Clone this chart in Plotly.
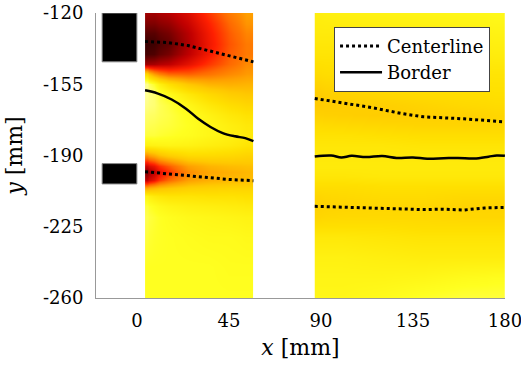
import plotly.graph_objects as go

# ---------------- data ----------------
# left field (x edges of columns, y rows, normalized intensity)
left_x_edges = [4, 6, 11, 20, 30, 40, 50, 57]
left_y = [-120, -125, -130, -135, -140, -145, -150, -155, -160, -165, -170, -175,
          -180, -185, -190, -195, -198, -202, -206, -210, -215, -220, -230, -245, -260]
left_z = [
    [0.86, 0.86, 0.83, 0.77, 0.67, 0.57, 0.50],
    [0.90, 0.90, 0.87, 0.80, 0.70, 0.60, 0.52],
    [0.95, 0.95, 0.91, 0.83, 0.72, 0.62, 0.55],
    [0.99, 0.98, 0.94, 0.84, 0.73, 0.63, 0.57],
    [0.97, 0.96, 0.91, 0.82, 0.72, 0.62, 0.57],
    [0.86, 0.85, 0.82, 0.75, 0.67, 0.60, 0.54],
    [0.34, 0.50, 0.60, 0.61, 0.58, 0.54, 0.51],
    [0.03, 0.14, 0.30, 0.40, 0.45, 0.46, 0.45],
    [0.02, 0.06, 0.17, 0.26, 0.33, 0.38, 0.40],
    [0.04, 0.06, 0.12, 0.19, 0.26, 0.31, 0.34],
    [0.07, 0.08, 0.11, 0.16, 0.21, 0.26, 0.29],
    [0.09, 0.10, 0.12, 0.15, 0.19, 0.23, 0.26],
    [0.12, 0.12, 0.14, 0.16, 0.19, 0.22, 0.25],
    [0.22, 0.21, 0.20, 0.21, 0.23, 0.25, 0.28],
    [0.52, 0.46, 0.37, 0.32, 0.32, 0.33, 0.35],
    [0.80, 0.74, 0.62, 0.50, 0.45, 0.43, 0.42],
    [0.90, 0.82, 0.68, 0.54, 0.48, 0.46, 0.44],
    [0.82, 0.74, 0.60, 0.50, 0.46, 0.44, 0.43],
    [0.48, 0.44, 0.40, 0.37, 0.36, 0.35, 0.35],
    [0.20, 0.25, 0.28, 0.28, 0.29, 0.29, 0.30],
    [0.12, 0.16, 0.20, 0.22, 0.23, 0.24, 0.25],
    [0.10, 0.13, 0.16, 0.18, 0.19, 0.20, 0.21],
    [0.12, 0.14, 0.15, 0.16, 0.17, 0.17, 0.18],
    [0.15, 0.15, 0.15, 0.15, 0.15, 0.16, 0.16],
    [0.15, 0.15, 0.15, 0.15, 0.15, 0.15, 0.15],
]

# right field
right_x_edges = [87, 92, 110, 130, 150, 170, 180]
right_y = [-120, -130, -140, -150, -160, -165, -170, -175, -180, -185, -190, -195,
           -200, -205, -210, -215, -220, -225, -230, -240, -250, -260]
right_z = [
    [0.23, 0.22, 0.21, 0.20, 0.19, 0.18],
    [0.25, 0.25, 0.24, 0.23, 0.22, 0.21],
    [0.28, 0.28, 0.27, 0.26, 0.25, 0.24],
    [0.32, 0.31, 0.30, 0.29, 0.28, 0.28],
    [0.38, 0.36, 0.34, 0.32, 0.31, 0.30],
    [0.39, 0.38, 0.37, 0.35, 0.33, 0.32],
    [0.36, 0.37, 0.38, 0.37, 0.36, 0.34],
    [0.32, 0.33, 0.34, 0.35, 0.35, 0.34],
    [0.29, 0.29, 0.30, 0.31, 0.31, 0.31],
    [0.27, 0.27, 0.27, 0.28, 0.28, 0.28],
    [0.26, 0.26, 0.26, 0.26, 0.26, 0.26],
    [0.25, 0.25, 0.25, 0.25, 0.25, 0.25],
    [0.27, 0.27, 0.26, 0.26, 0.26, 0.26],
    [0.31, 0.31, 0.30, 0.30, 0.30, 0.30],
    [0.34, 0.33, 0.32, 0.32, 0.33, 0.33],
    [0.36, 0.35, 0.34, 0.34, 0.35, 0.35],
    [0.34, 0.33, 0.33, 0.33, 0.34, 0.34],
    [0.30, 0.30, 0.30, 0.31, 0.31, 0.31],
    [0.26, 0.26, 0.27, 0.28, 0.28, 0.28],
    [0.22, 0.22, 0.23, 0.24, 0.24, 0.24],
    [0.20, 0.20, 0.20, 0.19, 0.17, 0.16],
    [0.19, 0.19, 0.17, 0.14, 0.12, 0.12],
]

# centerlines and borders
cl_upper_left_x = [4, 15, 25, 35, 45, 57]
cl_upper_left_y = [-134, -134.5, -136, -138.5, -141, -144]
border_left_x = [4, 10, 17, 24, 30, 36, 42, 48, 53, 57]
border_left_y = [-158, -159.5, -162.5, -167, -172, -176, -179, -180.6, -181.5, -183]
cl_lower_left_x = [4, 15, 25, 35, 45, 57]
cl_lower_left_y = [-198, -199, -200, -201, -201.8, -202.4]

cl_upper_right_x = [87, 100, 115, 130, 140, 160, 180]
cl_upper_right_y = [-162, -164, -166.5, -169.5, -171, -172, -173.5]
border_right_x = [87, 95, 100, 105, 112, 120, 127, 135, 142, 150, 157, 165, 172, 176, 180]
border_right_y = [-190.5, -190, -191, -190.2, -190.8, -190.3, -191.2, -191, -191.6, -191.4, -191.2, -191.5, -190.6, -190, -190.2]
cl_lower_right_x = [87, 100, 115, 130, 140, 150, 160, 170, 180]
cl_lower_right_y = [-215, -215.5, -216, -216.3, -216.6, -216.4, -216.8, -215.8, -215.5]

# obstacles (black blocks)
blocks = [(-17, 0, -144, -120), (-17, 0, -204, -194)]

x_ticks = [0, 45, 90, 135, 180]
y_ticks = [-120, -155, -190, -225, -260]

colorscale = [
    [0.00, "#FFFFA8"],
    [0.15, "#FFFF20"],
    [0.30, "#FFE000"],
    [0.40, "#FFC800"],
    [0.50, "#FFA000"],
    [0.60, "#FF6A00"],
    [0.70, "#FF2000"],
    [0.82, "#C00000"],
    [0.92, "#700000"],
    [1.00, "#300000"],
]

FONT = "DejaVu Serif"

fig = go.Figure()
for xe, yy, zz in [(left_x_edges, left_y, left_z), (right_x_edges, right_y, right_z)]:
    fig.add_trace(go.Heatmap(x=xe, y=yy, z=zz, colorscale=colorscale, zmin=0, zmax=1,
                             zsmooth="best", showscale=False, hoverinfo="skip"))

dot = dict(color="black", width=3, dash="dot")
sol = dict(color="black", width=2.5)
fig.add_trace(go.Scatter(x=cl_upper_left_x, y=cl_upper_left_y, mode="lines", line=dot,
                         name="Centerline", legendgroup="c"))
fig.add_trace(go.Scatter(x=border_left_x, y=border_left_y, mode="lines", line=sol,
                         name="Border", legendgroup="b", line_shape="spline"))
fig.add_trace(go.Scatter(x=cl_lower_left_x, y=cl_lower_left_y, mode="lines", line=dot,
                         showlegend=False))
fig.add_trace(go.Scatter(x=cl_upper_right_x, y=cl_upper_right_y, mode="lines", line=dot,
                         showlegend=False))
fig.add_trace(go.Scatter(x=border_right_x, y=border_right_y, mode="lines", line=sol,
                         showlegend=False, line_shape="spline"))
fig.add_trace(go.Scatter(x=cl_lower_right_x, y=cl_lower_right_y, mode="lines", line=dot,
                         showlegend=False))

for x0, x1, y0, y1 in blocks:
    fig.add_shape(type="rect", x0=x0, x1=x1, y0=y0, y1=y1, xref="x", yref="y",
                  fillcolor="black", line=dict(color="#888888", width=1))

fig.update_layout(
    width=521, height=369,
    margin=dict(l=96, r=16, t=13, b=71, autoexpand=False),
    paper_bgcolor="white", plot_bgcolor="white",
    font=dict(family=FONT, size=18, color="black"),
    showlegend=True,
    legend=dict(x=0.582, y=0.952, xanchor="left", yanchor="top",
                bgcolor="white", bordercolor="#444444", borderwidth=1,
                font=dict(family=FONT, size=18), tracegroupgap=0,
                itemwidth=42),
)
fig.update_xaxes(range=[-20, 180.05], tickvals=x_ticks, ticktext=[str(v) for v in x_ticks],
                 showgrid=False, zeroline=False, showline=True, linecolor="#999999",
                 ticks="", ticklabelstandoff=6, ticklabeloverflow="allow", automargin=False,
                 title=dict(text="<i>x</i> [mm]", standoff=10))
fig.update_yaxes(range=[-260.05, -120], tickvals=y_ticks, ticktext=[str(v) for v in y_ticks],
                 showgrid=False, zeroline=False, showline=True, linecolor="#999999",
                 ticks="", ticklabelstandoff=8, automargin=False,
                 title=dict(text="<i>y</i> [mm]", standoff=14))

fig.write_html("out.html")
